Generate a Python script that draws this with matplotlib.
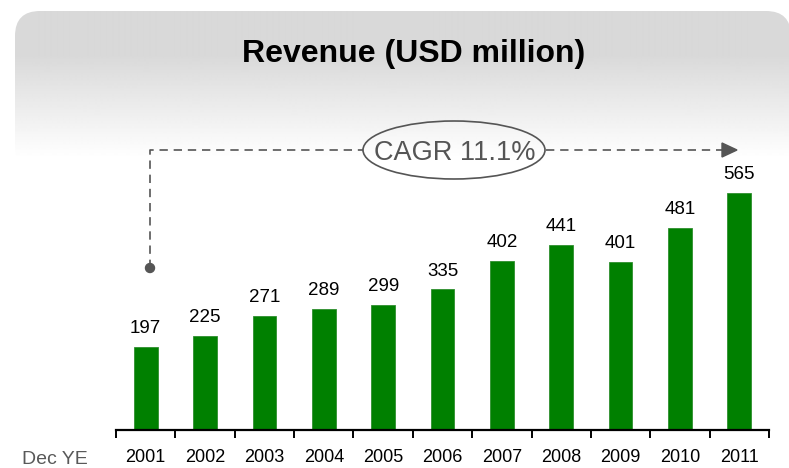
import numpy as np
import matplotlib
matplotlib.use("Agg")
import matplotlib.pyplot as plt
from matplotlib import font_manager
from matplotlib.patches import FancyBboxPatch, Ellipse, Polygon, Circle

years = ["2001", "2002", "2003", "2004", "2005", "2006", "2007", "2008", "2009", "2010", "2011"]
revenue = [197, 225, 271, 289, 299, 335, 402, 441, 401, 481, 565]
title = "Revenue (USD million)"
cagr_label = "CAGR 11.1%"


def pick_font(names):
    for n in names:
        try:
            font_manager.findfont(n, fallback_to_default=False)
            return n
        except Exception:
            pass
    return "DejaVu Sans"


regular = pick_font(["Liberation Sans", "Arial"])
narrow = pick_font(["Liberation Sans Narrow", "Arial Narrow", "Liberation Sans"])
plt.rcParams["font.family"] = [regular, "DejaVu Sans"]
# narrow face is usually missing, so shrink a bit to keep widths close
label_size = 16 if narrow != regular else 13.5
tick_size = 14.5 if narrow != regular else 13

W, H = 789, 468
fig = plt.figure(figsize=(W / 100, H / 100), dpi=100)
fig.patch.set_facecolor("white")

# background panel with grey gradient (pixel coordinates)
bg = fig.add_axes([0, 0, 1, 1], zorder=0)
bg.set_xlim(0, W)
bg.set_ylim(H, 0)
bg.axis("off")
ys = np.arange(0, 170)
shade = np.where(ys < 55, 0.85, 0.85 + 0.15 * (ys - 55) / (158 - 55))
shade = np.clip(shade, 0.85, 1.0)
grad = np.repeat(shade[:, None], 2, axis=1)
im = bg.imshow(grad, cmap="gray", vmin=0, vmax=1, aspect="auto",
               extent=(0, W, 170, 0), interpolation="bilinear")
panel = FancyBboxPatch((15, 11), 776, 160, boxstyle="round,pad=0,rounding_size=25",
                       facecolor="none", edgecolor="none")
bg.add_patch(panel)
im.set_clip_path(panel)
bg.set_xlim(0, W)
bg.set_ylim(H, 0)

# bar chart
px_per_unit = 0.4195
ax = fig.add_axes([116 / W, (H - 430) / H, 653 / W, 420 / H], zorder=1)
ax.patch.set_alpha(0)
x = np.arange(len(years))
ax.bar(x, revenue, width=0.4, color="#008000", edgecolor="#2e8f2e", linewidth=0.6)
ax.set_xlim(-0.5, len(years) - 0.5)
ax.set_ylim(0, 420 / px_per_unit)
for xi, v in zip(x, revenue):
    ax.annotate(str(v), (xi, v), xytext=(0, 10), textcoords="offset points",
                ha="center", va="baseline", fontsize=label_size, family=narrow, color="black")

for s in ["left", "right", "top"]:
    ax.spines[s].set_visible(False)
ax.spines["bottom"].set_linewidth(1.6)
ax.set_yticks([])
ax.set_xticks(x)
ax.set_xticklabels(years, family=narrow, fontsize=tick_size)
ax.tick_params(axis="x", which="major", length=0, pad=14)
ax.set_xticks(np.arange(-0.5, len(years)), minor=True)
ax.tick_params(axis="x", which="minor", length=6, width=1.4, direction="out", color="black")

# overlay annotations (pixel coordinates)
ov = fig.add_axes([0, 0, 1, 1], zorder=2)
ov.set_xlim(0, W)
ov.set_ylim(H, 0)
ov.axis("off")
ov.patch.set_alpha(0)

grey = "#555555"
ov.text(414, 62, title, ha="center", va="baseline", fontsize=23, fontweight="bold", color="black")

dash = dict(color=grey, lw=1.2, linestyle=(0, (5, 3.5)))
ov.plot([150, 150, 363], [268, 150, 150], **dash)
ov.plot([546, 722], [150, 150], **dash)
ov.add_patch(Polygon([[722, 143], [722, 157], [737, 150]], closed=True, color=grey))
ov.add_patch(Circle((150, 268), 4.5, color=grey))
ov.add_patch(Ellipse((454, 150), 182, 58, facecolor="none", edgecolor=grey, lw=1.2))
ov.text(455, 160, cagr_label, ha="center", va="baseline", fontsize=19.5, color=grey)

ov.text(22, 464, "Dec YE", ha="left", va="baseline", fontsize=14, color="#595959")

fig.savefig("out.png", dpi=100)
